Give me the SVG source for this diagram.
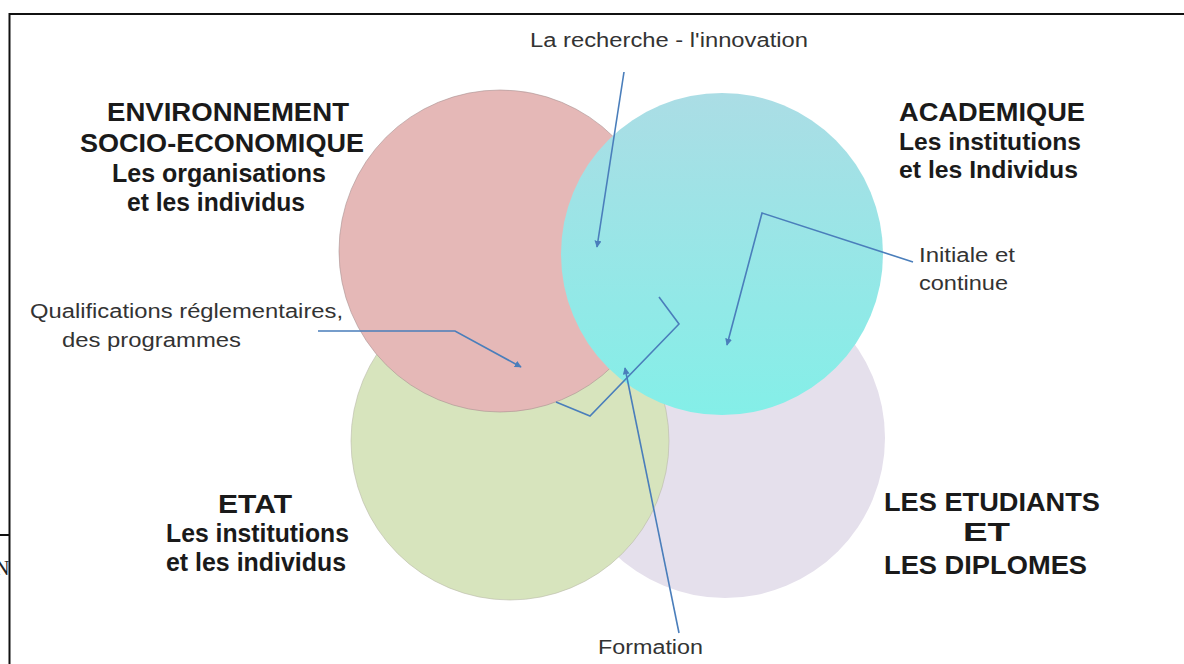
<svg xmlns="http://www.w3.org/2000/svg" width="1184" height="664" viewBox="0 0 1184 664">
<defs>
<linearGradient id="cyanGrad" x1="0" y1="0" x2="0" y2="1">
<stop offset="0" stop-color="#abdde5"/>
<stop offset="1" stop-color="#84efe8"/>
</linearGradient>
<marker id="arr" viewBox="0 0 10 10" refX="9" refY="5" markerWidth="7" markerHeight="7" markerUnits="userSpaceOnUse" orient="auto">
<path d="M0,0 L10,5 L0,10 z" fill="#4a7ebb"/>
</marker>
<style>
.big{font-family:"Liberation Sans",Arial,sans-serif;font-weight:bold;font-size:26px;fill:#1a1a1a}
.mid{font-family:"Liberation Sans",Arial,sans-serif;font-weight:bold;font-size:24px;fill:#1a1a1a}
.small{font-family:"Liberation Sans",Arial,sans-serif;font-size:20px;fill:#333}
.conn{fill:none;stroke:#4a7ebb;stroke-width:1.6}
</style>
</defs>
<rect width="1184" height="664" fill="#fff"/>
<g id="frame">
<path d="M1190,14 H9.5 V670" fill="none" stroke="#111" stroke-width="2"/>
<line x1="0" y1="535" x2="9" y2="535" stroke="#111" stroke-width="2"/>
<text x="-5" y="575" font-family="Liberation Serif,serif" font-size="20" fill="#222">N</text>
</g>
<g id="etudiants">
<circle cx="725" cy="438" r="160" fill="#e5e0ec"/>
</g>
<g id="etat">
<circle cx="510" cy="441" r="159" fill="#d7e4bd" stroke="#b8b8a8" stroke-width="0.6"/>
</g>
<g id="environnement">
<circle cx="500" cy="251" r="161" fill="#e5b8b7" stroke="#a89090" stroke-width="0.6"/>
</g>
<g id="academique">
<circle cx="722" cy="254" r="161" fill="url(#cyanGrad)"/>
</g>
<g id="connectors">
<path class="conn" d="M624,72 L597,247" marker-end="url(#arr)"/>
<path class="conn" d="M913,262 L762,213 L727,345" marker-end="url(#arr)"/>
<path class="conn" d="M318,331 L455,331 L521,367" marker-end="url(#arr)"/>
<path class="conn" d="M659,297 L679,324 L590,416 L556,402"/>
<path class="conn" d="M679,633 L625,368" marker-end="url(#arr)"/>
</g>
<g id="labels-env">
<text class="big" x="107" y="121" textLength="242" lengthAdjust="spacingAndGlyphs">ENVIRONNEMENT</text>
<text class="big" x="80" y="152" textLength="284" lengthAdjust="spacingAndGlyphs">SOCIO-ECONOMIQUE</text>
<text class="big" x="112" y="182" textLength="214" lengthAdjust="spacingAndGlyphs">Les organisations</text>
<text class="big" x="127" y="211" textLength="178" lengthAdjust="spacingAndGlyphs">et les individus</text>
</g>
<g id="labels-acad">
<text class="big" x="899" y="121" textLength="186" lengthAdjust="spacingAndGlyphs">ACADEMIQUE</text>
<text class="mid" x="899" y="150" textLength="182" lengthAdjust="spacingAndGlyphs">Les institutions</text>
<text class="mid" x="899" y="178" textLength="179" lengthAdjust="spacingAndGlyphs">et les Individus</text>
</g>
<g id="labels-etat">
<text class="big" x="218" y="513" textLength="74" lengthAdjust="spacingAndGlyphs">ETAT</text>
<text class="big" x="166" y="542" textLength="183" lengthAdjust="spacingAndGlyphs">Les institutions</text>
<text class="big" x="166" y="571" textLength="180" lengthAdjust="spacingAndGlyphs">et les individus</text>
</g>
<g id="labels-etud">
<text class="big" x="884" y="511" textLength="216" lengthAdjust="spacingAndGlyphs">LES ETUDIANTS</text>
<text class="big" x="963" y="541" textLength="47" lengthAdjust="spacingAndGlyphs">ET</text>
<text class="big" x="884" y="574" textLength="203" lengthAdjust="spacingAndGlyphs">LES DIPLOMES</text>
</g>
<g id="small-labels">
<text class="small" x="530" y="47" textLength="278" lengthAdjust="spacingAndGlyphs">La recherche - l'innovation</text>
<text class="small" x="919" y="262" textLength="96" lengthAdjust="spacingAndGlyphs">Initiale et</text>
<text class="small" x="919" y="290" textLength="89" lengthAdjust="spacingAndGlyphs">continue</text>
<text class="small" x="30" y="318" textLength="313" lengthAdjust="spacingAndGlyphs">Qualifications réglementaires,</text>
<text class="small" x="62" y="347" textLength="179" lengthAdjust="spacingAndGlyphs">des programmes</text>
<text class="small" x="598" y="654" textLength="105" lengthAdjust="spacingAndGlyphs">Formation</text>
</g>
</svg>
